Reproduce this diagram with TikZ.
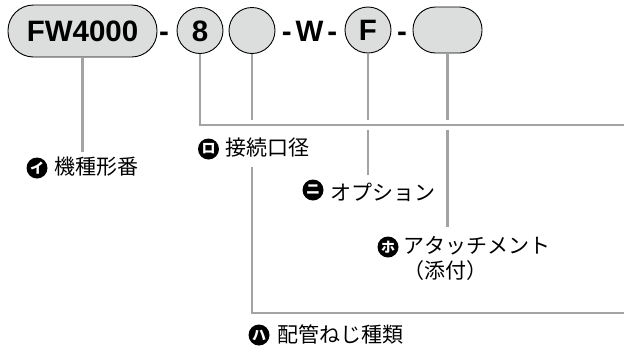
\documentclass[tikz,border=0pt]{standalone}
\usepackage{fontspec}
\setmainfont{Liberation Sans}
\newfontfamily\jp{Noto Sans CJK JP}
\definecolor{pillgray}{HTML}{DCDDDD}
\definecolor{leadgray}{HTML}{A3A3A3}
\tikzset{
	code/.style={font=\bfseries\fontsize{29.5}{30}\selectfont, inner sep=0pt, text height=21pt, text depth=0pt},
	pill/.style={code, draw, line width=0.9pt, fill=pillgray},
	ring/.style={pill, circle, minimum size=46pt},
	lead/.style={draw=leadgray, line width=2.4pt},
	halo/.style={preaction={draw=white, line width=10pt}},
	ltxt/.style={font=\jp\fontsize{21}{25}\selectfont, inner sep=1pt, fill=white},
	kana/.style={circle, fill=black, text=white, inner sep=0pt, minimum size=21pt, font=\jp\bfseries\fontsize{14}{14}\selectfont}
}
\begin{document}
\begin{tikzpicture}[x=1pt,y=-1pt]
		\useasboundingbox (0,0) rectangle (624,349);
		% model code
		\node[pill, minimum width=149pt, minimum height=52pt, rounded corners=25.5pt] (fw) at (82.5,31) {FW4000};
		\node[code] (d1) at (164,31) {-};
		\node[ring] (size) at (200,30.5) {8};
		\node[ring] (pipe) at (252,30.5) {};
		\node[code] (dw) at (309.5,31) {-\hspace{4pt}W\hspace{4pt}-};
		\node[ring] (opt) at (368,30) {F};
		\node[code] (d2) at (402,31) {-};
		\node[pill, minimum width=69pt, minimum height=46pt, rounded corners=22.5pt] (att) at (447.5,30) {};
		% pipe thread line goes under the size label
		\coordinate (eport) at (624,313);
		\draw[lead] (pipe) |- (eport);
		% labels
		\node[kana] (kmodel) at (37,168) {イ};
		\node[ltxt] (lmodel) at (96.5,167) {機種形番};
		\node[kana] (ksize) at (208.5,149) {ロ};
		\node[ltxt, inner ysep=9pt] (lsize) at (267.5,148) {接続口径};
		\node[kana] (kopt) at (313,190) {ニ};
		\node[ltxt] (lopt) at (382.5,192) {オプション};
		\node[kana] (katt) at (388,247) {ホ};
		\node[ltxt, align=left, anchor=north west] (latt) at (402,235) {アタッチメント\\（添付）};
		\node[kana] (kpipe) at (259,335) {ハ};
		\node[ltxt] (lpipe) at (340,334) {配管ねじ種類};
		% leaders
		\draw[lead, shorten >=4pt] (fw) -- (fw |- lmodel.north);
		\draw[lead, shorten >=6pt] (opt) -- (opt |- lopt.north);
		\draw[lead, shorten >=8pt] (att) -- (att |- latt.north);
		\coordinate (esize) at (624,125);
		\draw[lead, halo] (size) |- (esize);
	\end{tikzpicture}
\end{document}
